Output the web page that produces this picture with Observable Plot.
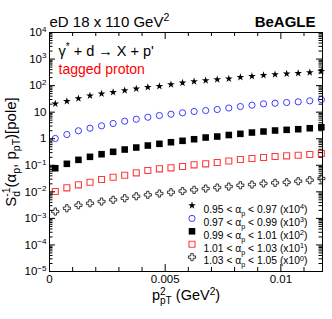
<!DOCTYPE html>
<html><head><meta charset="utf-8">
<script src="https://cdn.jsdelivr.net/npm/d3@7"></script>
<script src="https://cdn.jsdelivr.net/npm/@observablehq/plot@0.6"></script>
<style>
html,body{margin:0;padding:0;background:#fff;}
#chart svg{display:block;}
</style></head><body><div id="chart"></div>
<script>
// ---- data (values as plotted, i.e. already multiplied by the legend factor) ----
const pT2 = [0.00025, 0.00075, 0.00125, 0.00175, 0.00225, 0.00275, 0.00325, 0.00375,
             0.00425, 0.00475, 0.00525, 0.00575, 0.00625, 0.00675, 0.00725, 0.00775,
             0.00825, 0.00875, 0.00925, 0.00975, 0.01025, 0.01075, 0.01125, 0.01175];
const alpha095_x1e4 = [20.6, 25.8, 32.7, 41.3, 49.1, 56.4, 65.4, 75.7, 87.1, 94.9, 110, 127,
                       143, 156, 170, 180, 207, 226, 246, 262, 278, 293, 311, 348];
const alpha097_x1e3 = [1.02, 1.44, 1.99, 2.49, 3.06, 3.74, 4.56, 5.42, 6.45, 7.48, 8.37, 9.46,
                       10.6, 11.5, 12.6, 14.3, 16.3, 18.3, 20.6, 21.7, 23.1, 24.5, 26.7, 29.9];
const alpha099_x1e2 = [0.0774, 0.1135, 0.160, 0.208, 0.261, 0.321, 0.392, 0.466, 0.555, 0.643, 0.738, 0.834,
                       0.957, 1.11, 1.21, 1.38, 1.53, 1.71, 1.87, 2.04, 2.16, 2.28, 2.48, 2.71];
const alpha101_x1e1 = [0.01026, 0.01415, 0.01837, 0.0230, 0.0290, 0.0355, 0.0422, 0.0520, 0.0634, 0.0735, 0.0802, 0.0897,
                       0.104, 0.1135, 0.127, 0.1445, 0.165, 0.1795, 0.196, 0.214, 0.227, 0.239, 0.254, 0.277];
const alpha103_x1e0 = [0.00181, 0.00241, 0.00313, 0.00372, 0.00431, 0.00500, 0.00574, 0.00682, 0.00771, 0.00863, 0.00966, 0.0107,
                       0.0119, 0.0133, 0.0145, 0.0158, 0.0177, 0.0188, 0.0206, 0.0218, 0.0230, 0.0251, 0.0274, 0.0317];
const legendLabels = [
  "0.95 < α_{p} < 0.97 (x10^{4})",
  "0.97 < α_{p} < 0.99 (x10^{3})",
  "0.99 < α_{p} < 1.01 (x10^{2})",
  "1.01 < α_{p} < 1.03 (x10^{1})",
  "1.03 < α_{p} < 1.05 (x10^{0})"
];
const yMajorTicks = [1e-5, 1e-4, 1e-3, 1e-2, 1e-1, 1, 10, 100, 1e3, 1e4];
const yTickLabels = ["10^{−5}", "10^{−4}", "10^{−3}", "10^{−2}", "10^{−1}", "1", "10", "10^{2}", "10^{3}", "10^{4}"];
const xMajorTicks = [0, 0.005, 0.01];
const xTickLabels = ["0", "0.005", "0.01"];
const xMinorTicks = [0.001, 0.002, 0.003, 0.004, 0.006, 0.007, 0.008, 0.009, 0.011];

// ---- styles ----
const W = 332, H = 319;
const M = {l: 49, r: 10, t: 32, b: 48};
const FW = W - M.l - M.r, FH = H - M.t - M.b;
const FONT = "'Liberation Sans', Arial, Helvetica, sans-serif";

const yMinorTicks = [];
for (const d of yMajorTicks.slice(0, -1)) for (let m = 2; m <= 9; ++m) yMinorTicks.push(m * d);

const seriesDefs = [
  {vals: alpha095_x1e4, symbol: "star",   r: 2.4, fill: "black", stroke: "none", sw: 0},
  {vals: alpha097_x1e3, symbol: "circle", r: 3.1, fill: "none",  stroke: "#3c3cff", sw: 1},
  {vals: alpha099_x1e2, symbol: "square", r: 3.7, fill: "black", stroke: "none", sw: 0},
  {vals: alpha101_x1e1, symbol: "square", r: 3.4, fill: "white", stroke: "#ff3c3c", sw: 1.1},
  {vals: alpha103_x1e0, symbol: "cross",  r: 3.0, fill: "white", stroke: "#222", sw: 0.9}
];

const marks = [];
// data points
seriesDefs.forEach(s => {
  const rows = pT2.map((x, i) => ({x, y: s.vals[i]}));
  marks.push(Plot.dot(rows, {x: "x", y: "y", symbol: s.symbol, r: s.r, fill: s.fill, stroke: s.stroke, strokeWidth: s.sw}));
});
// inward ticks: left/right (y), bottom/top (x)
marks.push(
  Plot.tickY(yMajorTicks, {y: d => d, insetRight: FW - 6, stroke: "black"}),
  Plot.tickY(yMinorTicks, {y: d => d, insetRight: FW - 3.5, stroke: "black"}),
  Plot.tickY(yMajorTicks, {y: d => d, insetLeft: FW - 6, stroke: "black"}),
  Plot.tickY(yMinorTicks, {y: d => d, insetLeft: FW - 3.5, stroke: "black"}),
  Plot.tickX(xMajorTicks, {x: d => d, insetTop: FH - 7, stroke: "black"}),
  Plot.tickX(xMinorTicks, {x: d => d, insetTop: FH - 4, stroke: "black"}),
  Plot.tickX(xMajorTicks, {x: d => d, insetBottom: FH - 7, stroke: "black"}),
  Plot.tickX(xMinorTicks, {x: d => d, insetBottom: FH - 4, stroke: "black"}),
  Plot.frame({stroke: "black", strokeWidth: 1})
);
// tick labels
marks.push(
  Plot.axisY(yMajorTicks, {anchor: "left", label: null, tickSize: 0, tickPadding: 3, fontSize: 11.5,
    tickFormat: d => yTickLabels[yMajorTicks.indexOf(d)]}),
  Plot.axisX(xMajorTicks, {anchor: "bottom", label: null, tickSize: 0, tickPadding: 3, fontSize: 11.5,
    tickFormat: d => xTickLabels[xMajorTicks.indexOf(d)]})
);
// titles and annotations
marks.push(
  Plot.text(["eD 18 x 110 GeV^{2}"], {frameAnchor: "top-left", textAnchor: "start", lineAnchor: "bottom", dy: -6, fontSize: 15}),
  Plot.text(["BeAGLE"], {frameAnchor: "top-right", textAnchor: "end", lineAnchor: "bottom", dx: -7, dy: -6, fontSize: 15, fontWeight: "bold"}),
  Plot.text(["γ^{*} + d → X + p'"], {frameAnchor: "top-left", textAnchor: "start", lineAnchor: "bottom", dx: 9, dy: 23, fontSize: 14.5}),
  Plot.text(["tagged proton"], {frameAnchor: "top-left", textAnchor: "start", lineAnchor: "bottom", dx: 9, dy: 41, fontSize: 14, fill: "red"}),
  Plot.text(["p^{2}_{pT} (GeV^{2})"], {frameAnchor: "bottom", textAnchor: "middle", lineAnchor: "bottom", dy: 28.5, fontSize: 14.5}),
  Plot.text(["S_{d}^{-1}(α_{p}, p_{pT})[pole]"], {frameAnchor: "left", textAnchor: "middle", lineAnchor: "bottom", rotate: -90, dx: -34, fontSize: 15})
);
// legend
seriesDefs.forEach((s, i) => {
  marks.push(
    Plot.dot([0], {frameAnchor: "top-left", dx: 142.5, dy: 173 + 12.9 * i, symbol: s.symbol, r: s.r, fill: s.fill, stroke: s.stroke, strokeWidth: s.sw}),
    Plot.text([legendLabels[i]], {frameAnchor: "top-left", textAnchor: "start", dx: 154, dy: 173 + 12.9 * i, fontSize: 10.3})
  );
});

const chart = Plot.plot({
  width: W, height: H,
  marginLeft: M.l, marginRight: M.r, marginTop: M.t, marginBottom: M.b,
  style: {fontFamily: FONT, background: "white", overflow: "visible", color: "black"},
  x: {domain: [0, 0.0118], axis: null},
  y: {type: "log", domain: [1e-5, 1e4], axis: null},
  marks
});
document.getElementById("chart").appendChild(chart);

// ---- rich text: _{sub} and ^{sup} markup -> tspans ----
function richText(el) {
  const s = el.textContent;
  if (!/[_^]\{/.test(s)) return;
  const fs = parseFloat(getComputedStyle(el).fontSize);
  const tokens = [];
  let i = 0, buf = "";
  while (i < s.length) {
    if ((s[i] === "_" || s[i] === "^") && s[i + 1] === "{") {
      if (buf) { tokens.push({t: "n", s: buf}); buf = ""; }
      const j = s.indexOf("}", i);
      tokens.push({t: s[i] === "_" ? "sub" : "sup", s: s.slice(i + 2, j)});
      i = j + 1;
    } else buf += s[i++];
  }
  if (buf) tokens.push({t: "n", s: buf});
  el.textContent = "";
  let cur = 0, prev = null;
  for (const tk of tokens) {
    const ts = document.createElementNS("http://www.w3.org/2000/svg", "tspan");
    ts.textContent = tk.s;
    const target = tk.t === "sub" ? fs * 0.3 : tk.t === "sup" ? -fs * 0.38 : 0;
    if (target - cur !== 0) ts.setAttribute("dy", (target - cur).toFixed(2));
    cur = target;
    if (tk.t !== "n") ts.setAttribute("font-size", (fs * 0.7).toFixed(2));
    el.appendChild(ts);
    if (tk.t !== "n" && prev && prev.t !== "n" && prev.t !== tk.t) {
      ts.setAttribute("dx", (-prev.el.getComputedTextLength()).toFixed(2));
    }
    prev = {t: tk.t, el: ts};
  }
}
chart.querySelectorAll("text").forEach(richText);
</script>
</body></html>
